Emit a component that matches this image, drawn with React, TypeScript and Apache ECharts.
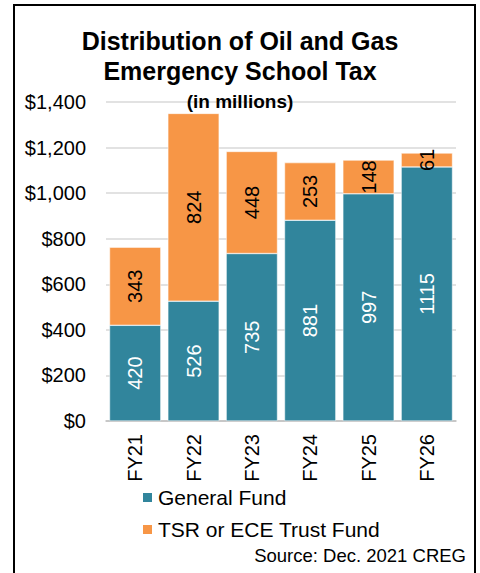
import React, { useEffect, useRef } from "react";
import * as echarts from "echarts";

const categories = ["FY21", "FY22", "FY23", "FY24", "FY25", "FY26"];
const generalFund = [420, 526, 735, 881, 997, 1115];
const trustFund = [343, 824, 448, 253, 148, 61];
const seriesNames = ["General Fund", "TSR or ECE Trust Fund"];

export default function App() {
  const ref = useRef<HTMLDivElement>(null);
  useEffect(() => {
    const chart = echarts.init(ref.current!, undefined, { renderer: "svg" });
    const font = "Liberation Sans, Arial, sans-serif";
    chart.setOption({
      animation: false,
      textStyle: { fontFamily: font },
      title: [
        {
          text: "Distribution of Oil and Gas\nEmergency School Tax",
          left: "center",
          top: 21,
          textStyle: { fontSize: 25, fontWeight: "bold", color: "#000", lineHeight: 30, fontFamily: font },
        },
        {
          text: "(in millions)",
          left: "center",
          top: 87,
          textStyle: { fontSize: 19, fontWeight: "bold", color: "#000", fontFamily: font },
        },
      ],
      graphic: [
        {
          type: "rect",
          shape: { x: 14, y: 5, width: 461, height: 600 },
          style: { fill: "none", stroke: "#000", lineWidth: 2 },
          silent: true,
        },
        {
          type: "text",
          right: 14,
          top: 546,
          style: { text: "Source: Dec. 2021 CREG", fontSize: 18.5, fill: "#000", fontFamily: font },
        },
      ],
      legend: {
        orient: "vertical",
        left: 136,
        top: 482,
        itemWidth: 11,
        itemHeight: 11,
        itemGap: 11,
        icon: "rect",
        textStyle: { fontSize: 21, color: "#000", fontFamily: font },
        data: seriesNames,
      },
      grid: { left: 106, right: 24, top: 102, bottom: 152 },
      xAxis: {
        type: "category",
        data: categories,
        axisLine: { lineStyle: { color: "#bfbfbf", width: 1.5 } },
        axisTick: { show: false },
        axisLabel: { rotate: 90, fontSize: 20, color: "#000", margin: 13, fontFamily: font },
      },
      yAxis: {
        type: "value",
        min: 0,
        max: 1400,
        interval: 200,
        axisLine: { show: false },
        axisTick: { show: false },
        splitLine: { lineStyle: { color: "#d9d9d9", width: 1.5 } },
        axisLabel: {
          fontSize: 20,
          color: "#000",
          margin: 20,
          fontFamily: font,
          formatter: (v: number) => "$" + v.toLocaleString("en-US"),
        },
      },
      series: [
        {
          name: seriesNames[0],
          type: "bar",
          stack: "total",
          data: generalFund,
          barCategoryGap: "12%",
          itemStyle: { color: "#31859C", borderColor: "#fff", borderWidth: 0.5 },
          label: { show: true, position: "inside", rotate: 90, fontSize: 20, color: "#fff", fontFamily: font },
        },
        {
          name: seriesNames[1],
          type: "bar",
          stack: "total",
          data: trustFund,
          barCategoryGap: "12%",
          itemStyle: { color: "#F79646", borderColor: "#fff", borderWidth: 0.5 },
          label: { show: true, position: "inside", rotate: 90, fontSize: 20, color: "#000", fontFamily: font },
        },
      ],
    });
    return () => chart.dispose();
  }, []);
  return (
    <div
      ref={ref}
      style={{ position: "fixed", left: 0, top: 0, width: 480, height: 573, background: "#fff" }}
    />
  );
}
